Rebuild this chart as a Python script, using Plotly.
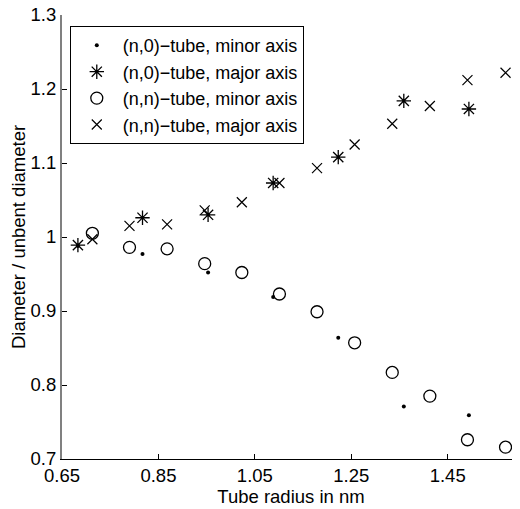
import plotly.graph_objects as go

# (n,0)-tube
r_n0 = [0.683, 0.817, 0.953, 1.088, 1.223, 1.359, 1.494]
minor_n0 = [0.988, 0.977, 0.952, 0.919, 0.864, 0.771, 0.759]
major_n0 = [0.989, 1.026, 1.030, 1.073, 1.108, 1.184, 1.173]

# (n,n)-tube
r_nn = [0.713, 0.790, 0.868, 0.946, 1.023, 1.101, 1.179, 1.257, 1.335, 1.413, 1.491, 1.570]
minor_nn = [1.005, 0.986, 0.984, 0.964, 0.952, 0.923, 0.899, 0.857, 0.817, 0.785, 0.726, 0.716]
major_nn = [0.997, 1.015, 1.017, 1.036, 1.047, 1.073, 1.093, 1.125, 1.153, 1.177, 1.212, 1.222]

x_ticks = [0.65, 0.85, 1.05, 1.25, 1.45]
y_ticks = [0.7, 0.8, 0.9, 1.0, 1.1, 1.2, 1.3]
y_tick_text = ["0.7", "0.8", "0.9", "1", "1.1", "1.2", "1.3"]

FONT = "Liberation Sans, Arial, sans-serif"
FS = 18.5

fig = go.Figure()
fig.add_trace(go.Scatter(x=r_n0, y=minor_n0, mode="markers", name="(n,0)−tube, minor axis",
                         marker=dict(symbol="circle", size=4, color="black")))
fig.add_trace(go.Scatter(x=r_n0, y=major_n0, mode="markers", name="(n,0)−tube, major axis",
                         marker=dict(symbol="asterisk-open", size=12, color="black",
                                     line=dict(color="black", width=1.3))))
fig.add_trace(go.Scatter(x=r_nn, y=minor_nn, mode="markers", name="(n,n)−tube, minor axis",
                         marker=dict(symbol="circle-open", size=12, color="black",
                                     line=dict(color="black", width=1.3))))
fig.add_trace(go.Scatter(x=r_nn, y=major_nn, mode="markers", name="(n,n)−tube, major axis",
                         marker=dict(symbol="x-thin-open", size=10, color="black",
                                     line=dict(color="black", width=1.2))))

# page body has an 8px default margin, so the figure is shifted by (8, 8)
fig.update_layout(
    width=512, height=501,
    margin=dict(l=54, r=0, t=7, b=50, autoexpand=False),
    paper_bgcolor="white", plot_bgcolor="white",
    font=dict(family=FONT, size=FS, color="black"),
    showlegend=True,
    legend=dict(x=0.017, y=0.975, xanchor="left", yanchor="top",
                bgcolor="white", bordercolor="black", borderwidth=1,
                font=dict(family=FONT, size=18, color="black"),
                tracegroupgap=0, itemwidth=42),
)
fig.update_xaxes(range=[0.65, 1.6], tickvals=x_ticks, ticktext=[f"{v:.2f}" for v in x_ticks],
                 showgrid=False, zeroline=False, showline=True, linecolor="black", linewidth=1,
                 ticks="inside", ticklen=5, tickcolor="black", automargin=False,
                 ticklabeloverflow="allow",
                 title=dict(text="Tube radius in nm", standoff=0, font=dict(size=FS)),
                 tickfont=dict(size=FS))
fig.update_yaxes(range=[0.7, 1.3], tickvals=y_ticks, ticktext=y_tick_text,
                 showgrid=False, zeroline=False, showline=True, linecolor="#808080", linewidth=2,
                 ticks="inside", ticklen=5, tickcolor="black", automargin=False,
                 ticklabeloverflow="allow",
                 title=dict(text="Diameter / unbent diameter", standoff=0, font=dict(size=FS)),
                 tickfont=dict(size=FS))

fig.write_html("out.html")
